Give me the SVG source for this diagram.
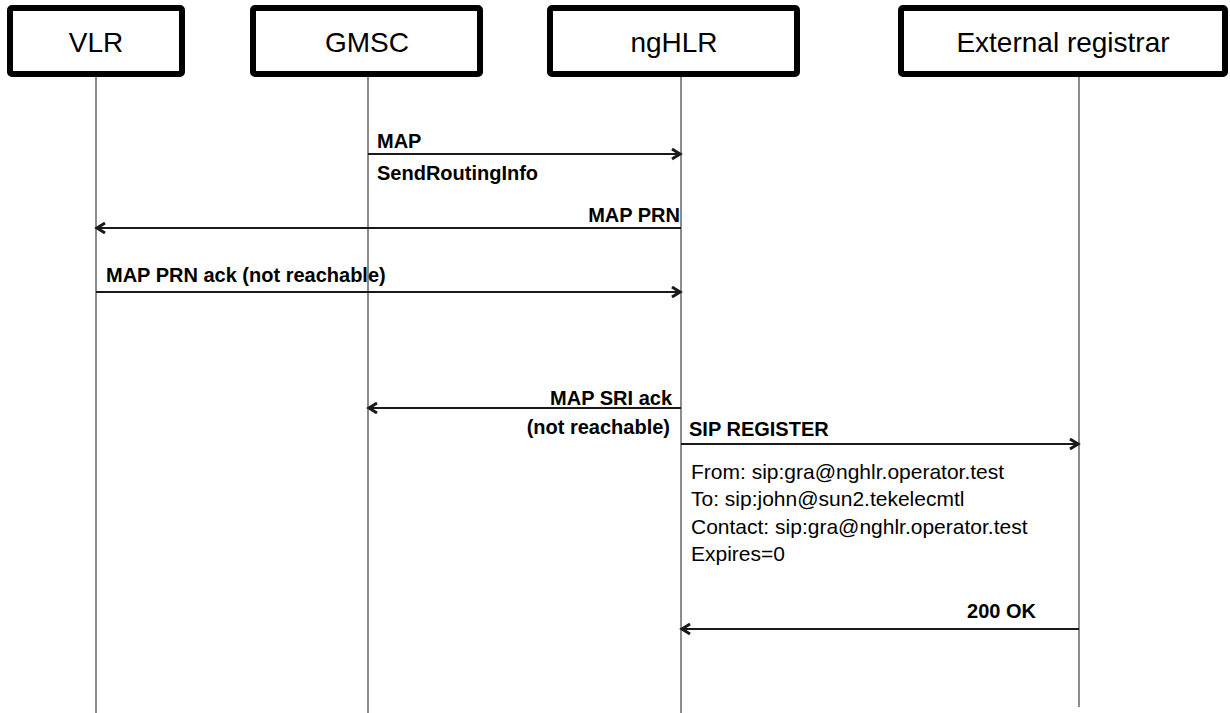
<svg xmlns="http://www.w3.org/2000/svg" width="1230" height="713" viewBox="0 0 1230 713">
  <style>
    .box { fill: #ffffff; stroke: #000000; stroke-width: 6; }
    .head { font-family: "Liberation Sans", Arial, sans-serif; font-size: 28px; fill: #000000; text-anchor: middle; }
    .life { stroke: #8c8c8c; stroke-width: 2; fill: none; }
    .msg { stroke: #1a1a1a; stroke-width: 2; fill: none; }
    .lbl { font-family: "Liberation Sans", Arial, sans-serif; font-size: 20px; font-weight: bold; fill: #000000; }
    .txt { font-family: "Liberation Sans", Arial, sans-serif; font-size: 21px; fill: #000000; }
    .end { text-anchor: end; }
  </style>
  <defs>
    <marker id="arrow" markerUnits="userSpaceOnUse" markerWidth="14" markerHeight="14" refX="10" refY="6" orient="auto">
      <path d="M2,1 L10,6 L2,11" fill="none" stroke="#1a1a1a" stroke-width="3"/>
    </marker>
  </defs>
  <rect width="1230" height="713" fill="#ffffff"/>

  <!-- lifelines -->
  <g id="lifelines">
    <line class="life" x1="96" y1="76" x2="96" y2="713"/>
    <line class="life" x1="368" y1="76" x2="368" y2="713"/>
    <line class="life" x1="681" y1="76" x2="681" y2="713"/>
    <line class="life" x1="1079" y1="76" x2="1079" y2="707"/>
  </g>

  <!-- participants -->
  <g id="vlr">
    <rect class="box" x="10" y="8" width="172" height="66" rx="2"/>
    <text class="head" x="96" y="52">VLR</text>
  </g>
  <g id="gmsc">
    <rect class="box" x="253" y="8" width="227" height="66" rx="2"/>
    <text class="head" x="367" y="52">GMSC</text>
  </g>
  <g id="nghlr">
    <rect class="box" x="550" y="8" width="247" height="66" rx="2"/>
    <text class="head" x="674" y="52">ngHLR</text>
  </g>
  <g id="external-registrar">
    <rect class="box" x="901" y="8" width="324" height="66" rx="2"/>
    <text class="head" x="1063" y="52">External registrar</text>
  </g>

  <!-- messages -->
  <g id="connectors">
    <line class="msg" x1="368" y1="154" x2="680" y2="154" marker-end="url(#arrow)"/>
    <line class="msg" x1="681" y1="228" x2="97" y2="228" marker-end="url(#arrow)"/>
    <line class="msg" x1="96" y1="292" x2="680" y2="292" marker-end="url(#arrow)"/>
    <line class="msg" x1="681" y1="408" x2="369" y2="408" marker-end="url(#arrow)"/>
    <line class="msg" x1="681" y1="444" x2="1078" y2="444" marker-end="url(#arrow)"/>
    <line class="msg" x1="1079" y1="629" x2="682" y2="629" marker-end="url(#arrow)"/>
  </g>

  <!-- message labels -->
  <g id="labels">
    <text class="lbl" x="377" y="148">MAP</text>
    <text class="lbl" x="377" y="180">SendRoutingInfo</text>
    <text class="lbl end" x="680" y="222">MAP PRN</text>
    <text class="lbl" x="106" y="282">MAP PRN ack (not reachable)</text>
    <text class="lbl end" x="672" y="405">MAP SRI ack</text>
    <text class="lbl end" x="670" y="434">(not reachable)</text>
    <text class="lbl" x="689" y="436">SIP REGISTER</text>
    <text class="txt" x="691" y="479">From: sip:gra@nghlr.operator.test</text>
    <text class="txt" x="691" y="506">To: sip:john@sun2.tekelecmtl</text>
    <text class="txt" x="691" y="534">Contact: sip:gra@nghlr.operator.test</text>
    <text class="txt" x="691" y="561">Expires=0</text>
    <text class="lbl end" x="1036" y="618">200 OK</text>
  </g>
</svg>
